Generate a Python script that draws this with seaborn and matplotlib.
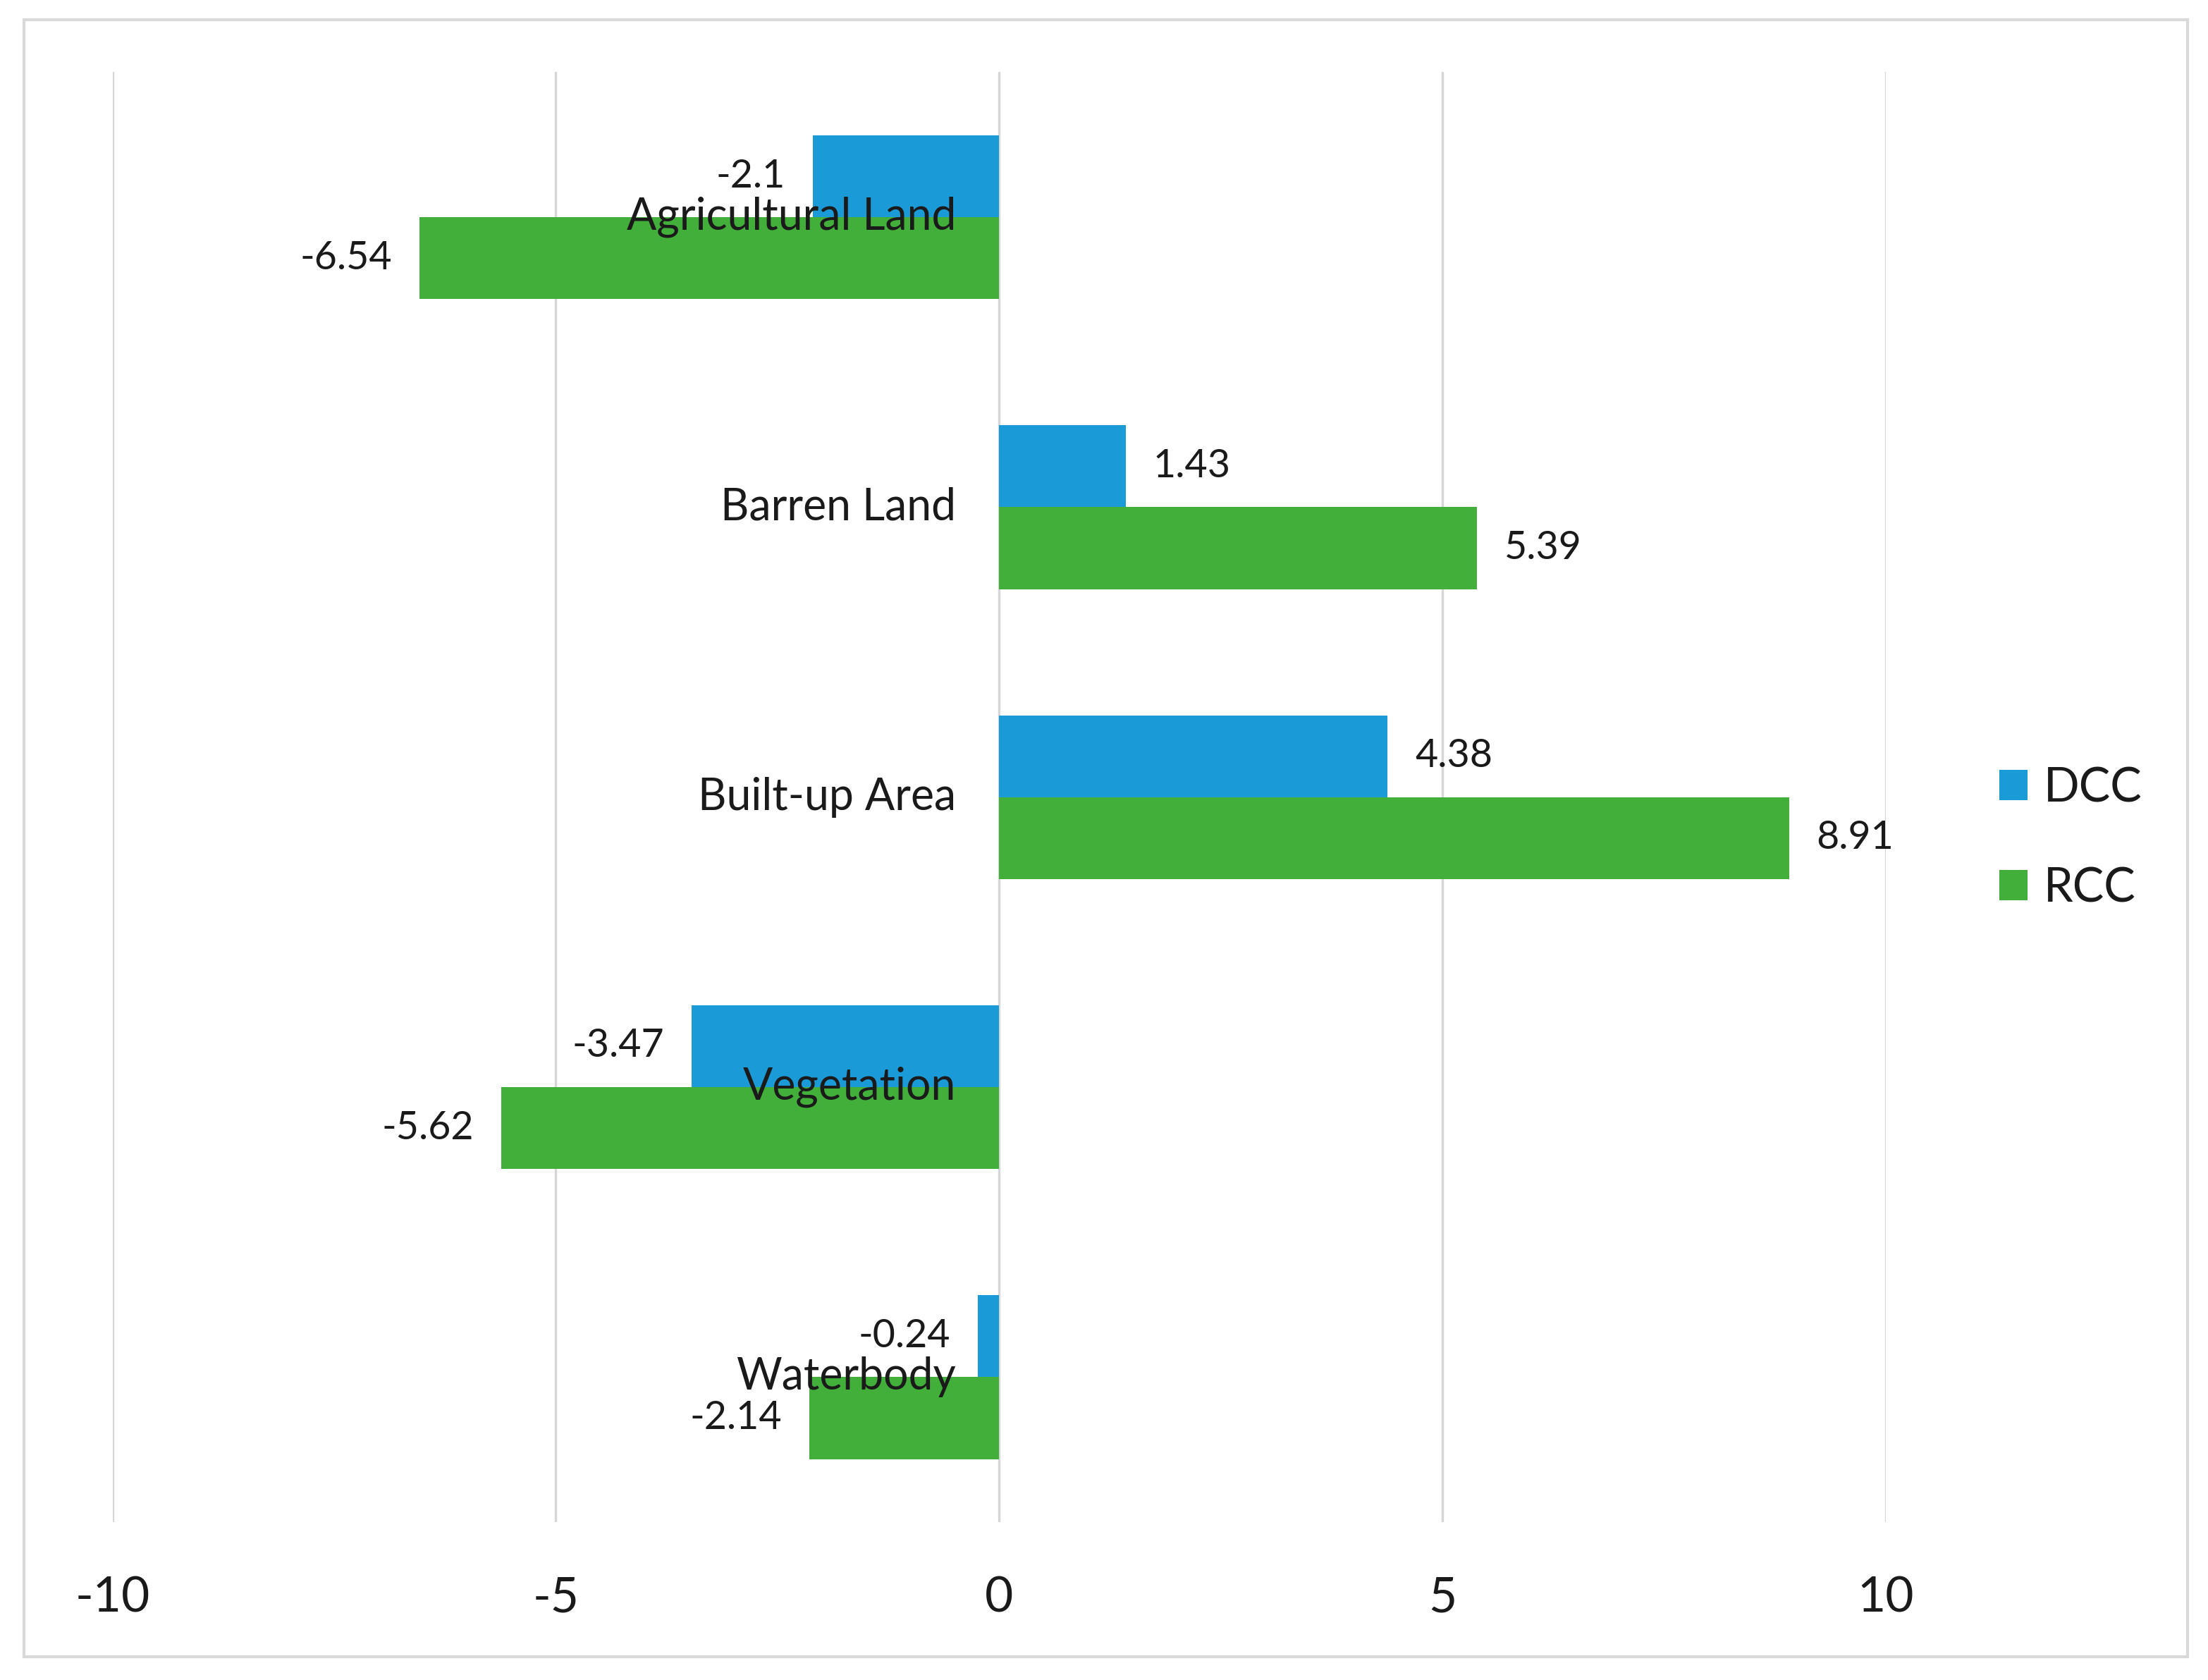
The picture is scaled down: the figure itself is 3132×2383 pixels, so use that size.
import pandas as pd
import matplotlib.pyplot as plt
import seaborn as sns
from matplotlib.patches import Rectangle

categories = ['Agricultural Land', 'Barren Land', 'Built-up Area', 'Vegetation', 'Waterbody']
dcc = [-2.1, 1.43, 4.38, -3.47, -0.24]
rcc = [-6.54, 5.39, 8.91, -5.62, -2.14]
series = ['DCC', 'RCC']
colors = ['#1A9BD7', '#43AF3B']
x_ticks = [-10, -5, 0, 5, 10]

df = pd.DataFrame({
    'category': categories * 2,
    'value': dcc + rcc,
    'series': [series[0]] * len(dcc) + [series[1]] * len(rcc),
})

sns.set_style('white')
plt.rcParams['font.family'] = ['Lato', 'DejaVu Sans']
plt.rcParams['axes.unicode_minus'] = False
text_color = '#1a1a1a'

fig, ax = plt.subplots(figsize=(31.32, 23.83), dpi=100)
fig.subplots_adjust(left=0.051, right=0.854, top=0.957, bottom=0.094)

sns.barplot(data=df, x='value', y='category', hue='series', order=categories,
            hue_order=series, palette=colors, width=0.565, gap=0, orient='h',
            errorbar=None, saturation=1, linewidth=0, ax=ax)

# data labels next to bar ends
for cont in ax.containers:
    ax.bar_label(cont, fmt='%g', padding=28, fontsize=40, color=text_color)

ax.set_xlim(-10, 10)
ax.set_ylim(len(categories) - 0.5, -0.5)
ax.set_xticks(x_ticks)
ax.set_xlabel('')
ax.set_ylabel('')
ax.set_axisbelow(True)
ax.grid(axis='x', color='#D6D6D6', linewidth=2.4)
ax.grid(axis='y', visible=False)
for s in ax.spines.values():
    s.set_visible(False)
# category labels sit next to the zero line, above the bars
ax.spines['left'].set_position(('data', 0))
ax.yaxis.set_zorder(3)
ax.tick_params(axis='y', length=0, pad=44, labelsize=45, labelcolor=text_color)
for lbl in ax.get_yticklabels():
    lbl.set_verticalalignment('center')
ax.tick_params(axis='x', length=0, pad=55, labelsize=50, labelcolor=text_color)

handles, labels = ax.get_legend_handles_labels()
ax.legend(handles, labels, loc='center left', bbox_to_anchor=(0.9055, 0.501),
          bbox_transform=fig.transFigure, frameon=False, fontsize=48,
          handlelength=0.6, handleheight=0.6, handletextpad=0.35,
          labelspacing=1.2, borderpad=0, borderaxespad=0,
          labelcolor=text_color)

fig.add_artist(Rectangle((0.0109, 0.0138), 0.980, 0.9744, transform=fig.transFigure,
                         fill=False, edgecolor='#D9D9D9', linewidth=3))

fig.savefig('out.png', dpi=100)
